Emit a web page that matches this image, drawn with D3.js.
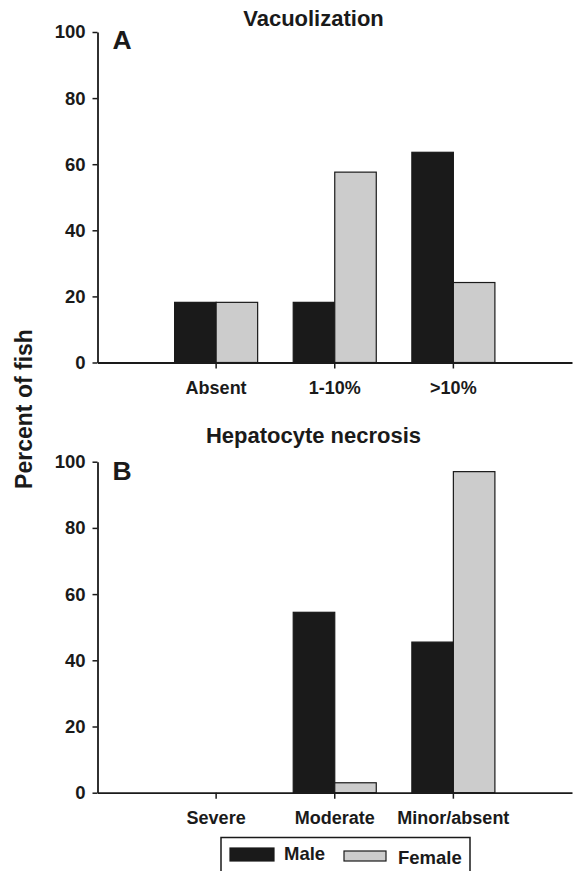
<!DOCTYPE html>
<html>
<head>
<meta charset="utf-8">
<script src="https://cdn.jsdelivr.net/npm/d3@7/dist/d3.min.js"></script>
<style>
  html, body { margin: 0; padding: 0; background: #fff; }
  svg { display: block; }
  text { font-family: "Liberation Sans", Arial, Helvetica, sans-serif; font-weight: bold; fill: #1a1a1a; }
</style>
</head>
<body>
<script>
// ---- Data ----
const series = ["Male", "Female"];
const seriesColors = ["#1a1a1a", "#cccccc"];
const yTicks = [0, 20, 40, 60, 80, 100];

const catsA = ["Absent", "1-10%", ">10%"];
const maleA = [18.2, 18.2, 63.6];
const femaleA = [18.2, 57.6, 24.2];

const catsB = ["Severe", "Moderate", "Minor/absent"];
const maleB = [0, 54.5, 45.5];
const femaleB = [0, 3.0, 97.0];

const titles = ["Vacuolization", "Hepatocyte necrosis"];
const panelLetters = ["A", "B"];
const yLabel = "Percent of fish";

// ---- Layout ----
const W = 575, H = 871;
const svg = d3.select("body").append("svg").attr("width", W).attr("height", H);

const axisX0 = 97.5, axisX1 = 572;
const panels = [
  { cats: catsA, male: maleA, female: femaleA, yTop: 32, yBot: 362.5, titleY: 26, catY: 394, letterY: 48.5, title: titles[0], letter: panelLetters[0] },
  { cats: catsB, male: maleB, female: femaleB, yTop: 461.7, yBot: 792.7, titleY: 443, catY: 824, letterY: 480, title: titles[1], letter: panelLetters[1] }
];

panels.forEach(p => {
  const g = svg.append("g");
  const x0 = d3.scaleBand().domain(p.cats).range([axisX0, axisX1]).paddingInner(0).paddingOuter(0.5);
  const bw = x0.bandwidth();
  const x1 = d3.scaleBand().domain(series).range([0.15 * bw, 0.85 * bw]).padding(0);
  const y = d3.scaleLinear().domain([0, 100]).range([p.yBot, p.yTop]);

  // bars
  const rows = p.cats.map((c, i) => ({ cat: c, vals: [p.male[i], p.female[i]] }));
  const grp = g.selectAll("g.cat").data(rows).join("g")
    .attr("transform", d => `translate(${x0(d.cat)},0)`);
  grp.selectAll("rect").data(d => d.vals.map((v, k) => ({ v, k })).filter(o => o.v > 0)).join("rect")
    .attr("x", d => x1(series[d.k]))
    .attr("width", x1.bandwidth())
    .attr("y", d => y(d.v))
    .attr("height", d => y(0) - y(d.v))
    .attr("fill", d => seriesColors[d.k])
    .attr("stroke", "#1a1a1a")
    .attr("stroke-width", 1.2);

  // y axis
  const ya = g.append("g").attr("transform", `translate(${axisX0},0)`)
    .call(d3.axisLeft(y).tickValues(yTicks).tickSize(5).tickSizeOuter(0).tickPadding(7));
  ya.select(".domain").attr("stroke", "#1a1a1a").attr("stroke-width", 1.8);
  ya.selectAll(".tick line").attr("stroke", "#1a1a1a").attr("stroke-width", 1.5);
  ya.selectAll(".tick text").style("font-size", "18.5px").attr("fill", "#1a1a1a");

  // x axis
  const xa = g.append("g").attr("transform", `translate(0,${p.yBot})`)
    .call(d3.axisBottom(x0).tickSize(6).tickSizeOuter(0).tickFormat(""));
  xa.select(".domain").attr("stroke", "#1a1a1a").attr("stroke-width", 1.8);
  xa.selectAll(".tick line").attr("stroke", "#1a1a1a").attr("stroke-width", 1.5);

  // category labels
  g.selectAll("text.cat").data(p.cats).join("text").attr("class", "cat")
    .attr("x", d => x0(d) + bw / 2).attr("y", p.catY)
    .attr("text-anchor", "middle").style("font-size", "18px").text(d => d);

  // title
  g.append("text").attr("x", 313.5).attr("y", p.titleY).attr("text-anchor", "middle")
    .style("font-size", "22px").text(p.title);
  // panel letter
  g.append("text").attr("x", 112.5).attr("y", p.letterY)
    .style("font-size", "26.5px").text(p.letter);
});

// y label
svg.append("text").attr("transform", "translate(32,409) rotate(-90)")
  .attr("text-anchor", "middle").style("font-size", "23px").text(yLabel);

// legend
const leg = svg.append("g");
leg.append("rect").attr("x", 221).attr("y", 837.5).attr("width", 249).attr("height", 40)
  .attr("fill", "#fff").attr("stroke", "#1a1a1a").attr("stroke-width", 1.5);
const legItems = [
  { name: series[0], color: seriesColors[0], sx: 230, sy: 848, sw: 44, sh: 13, tx: 284, ty: 860 },
  { name: series[1], color: seriesColors[1], sx: 344, sy: 851, sw: 42, sh: 10, tx: 398, ty: 863.5 }
];
legItems.forEach(it => {
  leg.append("rect").attr("x", it.sx).attr("y", it.sy).attr("width", it.sw).attr("height", it.sh)
    .attr("fill", it.color).attr("stroke", "#1a1a1a").attr("stroke-width", 1.2);
  leg.append("text").attr("x", it.tx).attr("y", it.ty).style("font-size", "18.5px").text(it.name);
});
</script>
</body>
</html>
